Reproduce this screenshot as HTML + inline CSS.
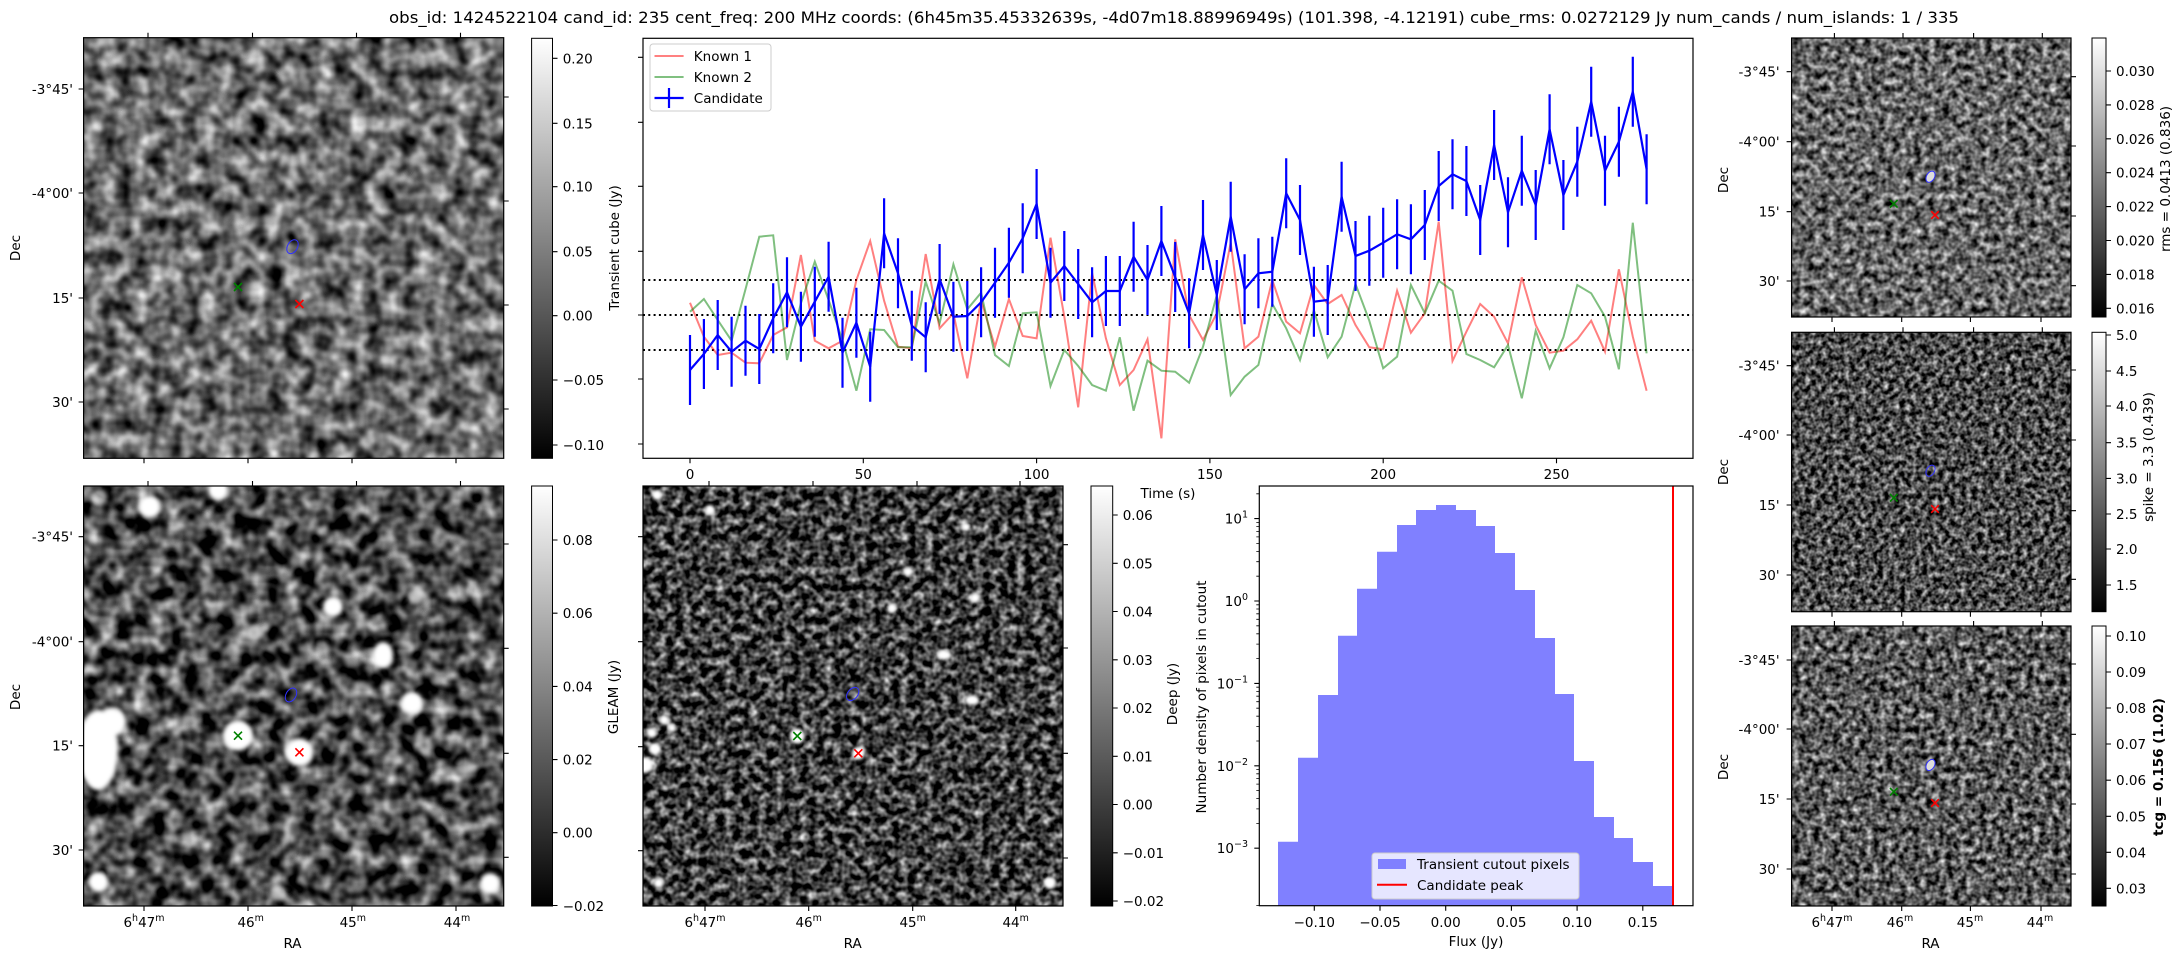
<!DOCTYPE html>
<html><head><meta charset="utf-8"><style>
html,body{margin:0;padding:0;background:#fff;}
svg{display:block;font-family:"DejaVu Sans","Liberation Sans",sans-serif;}
</style></head><body>
<svg width="2184" height="960" viewBox="0 0 2184 960" xmlns="http://www.w3.org/2000/svg">
<defs>
<linearGradient id="cb" x1="0" y1="1" x2="0" y2="0"><stop offset="0" stop-color="#000"/><stop offset="1" stop-color="#fff"/></linearGradient>
<filter id="fTL" x="83.6" y="37.7" width="420.1" height="420.6" filterUnits="userSpaceOnUse" color-interpolation-filters="sRGB">
<feTurbulence type="fractalNoise" baseFrequency="0.06" numOctaves="2" seed="3"/>
<feColorMatrix type="matrix" values="1.35 0 0 0 -0.255 1.35 0 0 0 -0.255 1.35 0 0 0 -0.255 0 0 0 0 1"/></filter>
<filter id="fBL" x="83.6" y="486" width="420.1" height="420" filterUnits="userSpaceOnUse" color-interpolation-filters="sRGB">
<feTurbulence type="fractalNoise" baseFrequency="0.06" numOctaves="2" seed="7"/>
<feColorMatrix type="matrix" values="1.6 0 0 0 -0.5 1.6 0 0 0 -0.5 1.6 0 0 0 -0.5 0 0 0 0 1"/></filter>
<filter id="fDP" x="643" y="486" width="420" height="420" filterUnits="userSpaceOnUse" color-interpolation-filters="sRGB">
<feTurbulence type="fractalNoise" baseFrequency="0.12" numOctaves="2" seed="11"/>
<feColorMatrix type="matrix" values="1.6 0 0 0 -0.55 1.6 0 0 0 -0.55 1.6 0 0 0 -0.55 0 0 0 0 1"/></filter>
<filter id="fR1" x="1791.6" y="38" width="279.4" height="279" filterUnits="userSpaceOnUse" color-interpolation-filters="sRGB">
<feTurbulence type="fractalNoise" baseFrequency="0.14" numOctaves="2" seed="5"/>
<feColorMatrix type="matrix" values="1.4 0 0 0 -0.3 1.4 0 0 0 -0.3 1.4 0 0 0 -0.3 0 0 0 0 1"/></filter>
<filter id="fR2" x="1791.6" y="332.3" width="279.4" height="279.4" filterUnits="userSpaceOnUse" color-interpolation-filters="sRGB">
<feTurbulence type="fractalNoise" baseFrequency="0.18" numOctaves="2" seed="9"/>
<feColorMatrix type="matrix" values="1.5 0 0 0 -0.45 1.5 0 0 0 -0.45 1.5 0 0 0 -0.45 0 0 0 0 1"/></filter>
<filter id="fR3" x="1791.6" y="626" width="279.4" height="280" filterUnits="userSpaceOnUse" color-interpolation-filters="sRGB">
<feTurbulence type="fractalNoise" baseFrequency="0.15" numOctaves="2" seed="13"/>
<feColorMatrix type="matrix" values="1.5 0 0 0 -0.4 1.5 0 0 0 -0.4 1.5 0 0 0 -0.4 0 0 0 0 1"/></filter>
<filter id="blur3"><feGaussianBlur stdDeviation="2.2"/></filter>
<filter id="blur2"><feGaussianBlur stdDeviation="1.6"/></filter>
<clipPath id="cBL"><rect x="83.6" y="486" width="420.1" height="420"/></clipPath>
<clipPath id="cDP"><rect x="643" y="486" width="420" height="420"/></clipPath>
</defs>

<text x="389" y="23" font-size="16" textLength="1570" lengthAdjust="spacingAndGlyphs">obs_id: 1424522104 cand_id: 235 cent_freq: 200 MHz coords: (6h45m35.45332639s, -4d07m18.88996949s) (101.398, -4.12191) cube_rms: 0.0272129 Jy num_cands / num_islands: 1 / 335</text>

<g font-size="13.5">
<!-- TOP LEFT -->
<rect x="83.6" y="37.7" width="420.1" height="420.6" filter="url(#fTL)"/>
<rect x="83.6" y="37.7" width="420.1" height="420.6" fill="none" stroke="#000" stroke-width="1.2"/>
<ellipse cx="292.5" cy="246.7" rx="5" ry="7.5" transform="rotate(30 292.5 246.7)" fill="none" stroke="#3030ff" stroke-width="1"/>
<path d="M234,283 l8,8 M242,283 l-8,8" stroke="green" stroke-width="1.6"/>
<path d="M295.4,300 l8,8 M303.4,300 l-8,8" stroke="red" stroke-width="1.6"/>
<path d="M148,37.7v-5M252.5,37.7v-5M356.5,37.7v-5M460.5,37.7v-5 M144,458.3v5M248,458.3v5M352,458.3v5M456,458.3v5 M83.6,89h-5M83.6,193h-5M83.6,298h-5M83.6,402h-5 M503.7,97h5M503.7,201h5M503.7,305h5M503.7,409h5" stroke="#000" stroke-width="1.1"/>
<text x="73" y="94" text-anchor="end">-3°45'</text>
<text x="73" y="198" text-anchor="end">-4°00'</text>
<text x="73" y="303" text-anchor="end">15'</text>
<text x="73" y="407" text-anchor="end">30'</text>
<text transform="translate(16,248) rotate(-90)" text-anchor="middle" dominant-baseline="central">Dec</text>
<rect x="531.6" y="38.3" width="20.9" height="420" fill="url(#cb)" stroke="#000" stroke-width="1"/>
<path d="M552.5,58.3h5M552.5,123.3h5M552.5,186.7h5M552.5,251.7h5M552.5,315.7h5M552.5,380h5M552.5,445h5" stroke="#000" stroke-width="1.1"/>
<text x="562.7" y="63.3">0.20</text><text x="562.7" y="128.3">0.15</text><text x="562.7" y="191.7">0.10</text><text x="562.7" y="256.7">0.05</text><text x="562.7" y="320.7">0.00</text><text x="562.7" y="385">−0.05</text><text x="562.7" y="450">−0.10</text>

<!-- LIGHT CURVE -->
<rect x="643" y="38.3" width="1050" height="420" fill="#fff" stroke="#000" stroke-width="1.2"/>
<path d="M643,57.3h-5M643,122.3h-5M643,186.3h-5M643,251.3h-5M643,315h-5M643,379h-5M643,444h-5 M690,458.3v5M863.3,458.3v5M1036.6,458.3v5M1209.9,458.3v5M1383.2,458.3v5M1556.5,458.3v5" stroke="#000" stroke-width="1.1"/>
<text x="690" y="479" text-anchor="middle">0</text><text x="863.3" y="479" text-anchor="middle">50</text><text x="1036.6" y="479" text-anchor="middle">100</text><text x="1209.9" y="479" text-anchor="middle">150</text><text x="1383.2" y="479" text-anchor="middle">200</text><text x="1556.5" y="479" text-anchor="middle">250</text>
<text x="1168" y="498" text-anchor="middle">Time (s)</text>
<text transform="translate(615,248) rotate(-90)" text-anchor="middle" dominant-baseline="central">Transient cube (Jy)</text>
<path d="M643,280H1693M643,315H1693M643,350H1693" stroke="#000" stroke-width="2" stroke-dasharray="2,3.3"/>
<polyline fill="none" stroke="#ff0000" stroke-opacity="0.5" stroke-width="2" points="690,302.7 703.9,336.7 717.7,355 731.6,352.7 745.5,362.7 759.3,363.3 773.2,335 787,327.3 800.9,255 814.8,340.7 828.6,348.3 842.5,340.7 856.4,280 870.2,241 884.1,300.7 898,346.7 911.8,348.3 925.7,254 939.6,328.3 953.4,313.3 967.3,378.3 981.1,300 995,346.7 1008.9,299 1022.7,336 1036.6,338.3 1050.5,237.7 1064.3,316.7 1078.2,407.3 1092.1,272.7 1105.9,338.3 1119.8,385 1133.6,370 1147.5,339.3 1161.4,438.3 1175.2,239.3 1189.1,315 1203,340 1216.8,313.3 1230.7,242.7 1244.6,348.3 1258.4,336.7 1272.3,280 1286.2,321.7 1300,333.3 1313.9,285 1327.7,304 1341.6,295 1355.5,325 1369.3,347.3 1383.2,349.3 1397.1,290.7 1410.9,332.7 1424.8,313.3 1438.7,221.7 1452.5,361 1466.4,331.7 1480.2,304 1494.1,316.7 1508,343.3 1521.8,277.3 1535.7,325 1549.6,352.7 1563.4,350.7 1577.3,339.3 1591.2,320.7 1605,351.7 1618.9,269.3 1632.8,336.7 1646.6,390.7"/>
<polyline fill="none" stroke="#008000" stroke-opacity="0.5" stroke-width="2" points="690,311.7 703.9,299 717.7,320 731.6,340.7 745.5,289.3 759.3,236.7 773.2,235.3 787,360 800.9,303.3 814.8,261.7 828.6,300 842.5,340 856.4,390.7 870.2,329.3 884.1,330 898,347.3 911.8,347.3 925.7,281.7 939.6,323.3 953.4,264.3 967.3,309.3 981.1,292.7 995,355 1008.9,366 1022.7,313.3 1036.6,312.3 1050.5,386 1064.3,350 1078.2,366 1092.1,385 1105.9,390.7 1119.8,337.3 1133.6,410.7 1147.5,360.7 1161.4,370.7 1175.2,371.7 1189.1,382.7 1203,346.7 1216.8,295 1230.7,395 1244.6,376.7 1258.4,365 1272.3,304 1286.2,328.3 1300,360 1313.9,310 1327.7,357.3 1341.6,336.7 1355.5,284 1369.3,320.7 1383.2,368.3 1397.1,356.7 1410.9,285 1424.8,313.3 1438.7,280.7 1452.5,290.7 1466.4,354 1480.2,360 1494.1,367.3 1508,345 1521.8,398.3 1535.7,330.7 1549.6,368.3 1563.4,337.3 1577.3,285 1591.2,293.3 1605,316.7 1618.9,369.3 1632.8,222.7 1646.6,353.3"/>
<polyline fill="none" stroke="#0000ff" stroke-width="2.2" points="690,370 703.9,354 717.7,335 731.6,351.7 745.5,340.7 759.3,349 773.2,318.3 787,292.3 800.9,326.7 814.8,301.7 828.6,276.7 842.5,352.7 856.4,322.7 870.2,366.7 884.1,233.3 898,273.3 911.8,325.7 925.7,337.3 939.6,279 953.4,316.7 967.3,316 981.1,302.3 995,282.7 1008.9,262.7 1022.7,238.3 1036.6,204 1050.5,282.7 1064.3,266 1078.2,284 1092.1,302.3 1105.9,291 1119.8,291 1133.6,256.7 1147.5,280 1161.4,241 1175.2,277 1189.1,313.3 1203,235 1216.8,295 1230.7,216.7 1244.6,289.3 1258.4,273.3 1272.3,271.7 1286.2,193.3 1300,220 1313.9,301.7 1327.7,300 1341.6,196.7 1355.5,256 1369.3,250.7 1383.2,242.7 1397.1,234.3 1410.9,239.3 1424.8,225 1438.7,186 1452.5,174.3 1466.4,181 1480.2,220 1494.1,145 1508,212.3 1521.8,170.7 1535.7,205 1549.6,129.3 1563.4,195 1577.3,161.7 1591.2,101.7 1605,170.7 1618.9,141.7 1632.8,91.7 1646.6,169.3"/>
<path stroke="#0000ff" stroke-width="2.2" fill="none" d="M690,335v70M703.9,319v70M717.7,300v70M731.6,316.7v70M745.5,305.7v70M759.3,314v70M773.2,283.3v70M787,257.3v70M800.9,291.7v70M814.8,266.7v70M828.6,241.7v70M842.5,317.7v70M856.4,287.7v70M870.2,331.7v70M884.1,198.3v70M898,238.3v70M911.8,290.7v70M925.7,302.3v70M939.6,244v70M953.4,281.7v70M967.3,281v70M981.1,267.3v70M995,247.7v70M1008.9,227.7v70M1022.7,203.3v70M1036.6,169v70M1050.5,247.7v70M1064.3,231v70M1078.2,249v70M1092.1,267.3v70M1105.9,256v70M1119.8,256v70M1133.6,221.7v70M1147.5,245v70M1161.4,206v70M1175.2,242v70M1189.1,278.3v70M1203,200v70M1216.8,260v70M1230.7,181.7v70M1244.6,254.3v70M1258.4,238.3v70M1272.3,236.7v70M1286.2,158.3v70M1300,185v70M1313.9,266.7v70M1327.7,265v70M1341.6,161.7v70M1355.5,221v70M1369.3,215.7v70M1383.2,207.7v70M1397.1,199.3v70M1410.9,204.3v70M1424.8,190v70M1438.7,151v70M1452.5,139.3v70M1466.4,146v70M1480.2,185v70M1494.1,110v70M1508,177.3v70M1521.8,135.7v70M1535.7,170v70M1549.6,94.3v70M1563.4,160v70M1577.3,126.7v70M1591.2,66.7v70M1605,135.7v70M1618.9,106.7v70M1632.8,56.7v70M1646.6,134.3v70"/>
<rect x="650" y="44" width="121" height="67" rx="3" fill="#fff" fill-opacity="0.8" stroke="#ccc" stroke-width="1"/>
<path d="M654.5,56H683.6" stroke="#ff8080" stroke-width="2"/>
<path d="M654.5,77H683.6" stroke="#80c080" stroke-width="2"/>
<path d="M654.5,98H683.6M669,88v20" stroke="#0000ff" stroke-width="2.2"/>
<text x="693.8" y="61">Known 1</text><text x="693.8" y="82">Known 2</text><text x="693.8" y="103">Candidate</text>

<!-- GLEAM -->
<rect x="83.6" y="486" width="420.1" height="420" filter="url(#fBL)"/>
<g clip-path="url(#cBL)" fill="#fff" filter="url(#blur3)">
<circle cx="149.5" cy="506.7" r="11"/><circle cx="218" cy="490" r="10"/><circle cx="333" cy="606.7" r="10"/><circle cx="254" cy="633" r="8" opacity="0.7"/><ellipse cx="383" cy="655" rx="10" ry="13"/><circle cx="412" cy="703" r="11"/><circle cx="415.5" cy="596.7" r="8" opacity="0.6"/><circle cx="238" cy="735.7" r="15"/><circle cx="299.4" cy="752.3" r="14"/><ellipse cx="98" cy="750" rx="20" ry="40"/><circle cx="112" cy="722" r="14"/><circle cx="98.4" cy="881.7" r="10"/><circle cx="490" cy="883" r="10"/><circle cx="278.5" cy="893" r="8" opacity="0.6"/><circle cx="464" cy="766.7" r="8" opacity="0.5"/><circle cx="99" cy="497" r="8" opacity="0.6"/><circle cx="322" cy="648" r="7" opacity="0.5"/><circle cx="232" cy="650" r="7" opacity="0.5"/>
</g>
<rect x="83.6" y="486" width="420.1" height="420" fill="none" stroke="#000" stroke-width="1.2"/>
<ellipse cx="291" cy="695" rx="5" ry="7.5" transform="rotate(30 291 695)" fill="none" stroke="#3030ff" stroke-width="1"/>
<path d="M234,731.7 l8,8 M242,731.7 l-8,8" stroke="green" stroke-width="1.6"/>
<path d="M295.4,748.3 l8,8 M303.4,748.3 l-8,8" stroke="red" stroke-width="1.6"/>
<path d="M148,486v-5M252.5,486v-5M356.5,486v-5M460.5,486v-5 M144,906v5M248,906v5M352,906v5M456,906v5 M83.6,536.7h-5M83.6,641.7h-5M83.6,745.7h-5M83.6,850h-5 M503.7,544h5M503.7,648.3h5M503.7,753.3h5M503.7,857.3h5" stroke="#000" stroke-width="1.1"/>
<text x="73" y="541.7" text-anchor="end">-3°45'</text>
<text x="73" y="646.7" text-anchor="end">-4°00'</text>
<text x="73" y="750.7" text-anchor="end">15'</text>
<text x="73" y="855" text-anchor="end">30'</text>
<text transform="translate(16,697) rotate(-90)" text-anchor="middle" dominant-baseline="central">Dec</text>
<text x="144" y="927" text-anchor="middle">6<tspan font-size="9.5" dy="-6">h</tspan><tspan dy="6">47</tspan><tspan font-size="9.5" dy="-6">m</tspan></text>
<text x="250.7" y="927" text-anchor="middle">46<tspan font-size="9.5" dy="-6">m</tspan></text>
<text x="352.8" y="927" text-anchor="middle">45<tspan font-size="9.5" dy="-6">m</tspan></text>
<text x="457" y="927" text-anchor="middle">44<tspan font-size="9.5" dy="-6">m</tspan></text>
<text x="292.5" y="948" text-anchor="middle">RA</text>
<rect x="531.6" y="486" width="20.9" height="420" fill="url(#cb)" stroke="#000" stroke-width="1"/>
<path d="M552.5,540h5M552.5,613.2h5M552.5,686.4h5M552.5,759.6h5M552.5,832.7h5M552.5,905.5h5" stroke="#000" stroke-width="1.1"/>
<text x="562.7" y="545">0.08</text><text x="562.7" y="618.2">0.06</text><text x="562.7" y="691.4">0.04</text><text x="562.7" y="764.6">0.02</text><text x="562.7" y="837.7">0.00</text><text x="562.7" y="911">−0.02</text>
<text transform="translate(614,697) rotate(-90)" text-anchor="middle" dominant-baseline="central">GLEAM (Jy)</text>

<!-- DEEP -->
<rect x="643" y="486" width="420" height="420" filter="url(#fDP)"/>
<g clip-path="url(#cDP)" fill="#fff" filter="url(#blur2)">
<circle cx="966" cy="527" r="4.5"/><circle cx="908" cy="572" r="4.5"/><circle cx="892" cy="608" r="5"/><circle cx="975" cy="598" r="5"/><ellipse cx="944" cy="655" rx="7" ry="5"/><ellipse cx="972" cy="700" rx="7" ry="5"/><circle cx="1042" cy="670" r="4" opacity="0.7"/><circle cx="1050" cy="883" r="6"/><circle cx="1027.7" cy="766.7" r="4" opacity="0.6"/><circle cx="837.7" cy="891" r="4" opacity="0.6"/><circle cx="797.3" cy="736" r="7.5"/><circle cx="858.3" cy="753.3" r="6.5"/><circle cx="655" cy="749" r="6"/><circle cx="651.7" cy="733" r="5"/><circle cx="664.3" cy="720" r="5"/><circle cx="672" cy="728" r="4"/><circle cx="645" cy="765" r="8"/><circle cx="658.7" cy="883" r="5"/><circle cx="657" cy="495" r="5"/><circle cx="710" cy="510" r="5"/><circle cx="1028" cy="897" r="4" opacity="0.6"/><circle cx="1042" cy="632" r="4" opacity="0.5"/>
</g>
<rect x="643" y="486" width="420" height="420" fill="none" stroke="#000" stroke-width="1.2"/>
<ellipse cx="852.7" cy="694" rx="5" ry="7.5" transform="rotate(40 852.7 694)" fill="none" stroke="#3030ff" stroke-width="1"/>
<path d="M793.3,732 l8,8 M801.3,732 l-8,8" stroke="green" stroke-width="1.6"/>
<path d="M854.3,749.3 l8,8 M862.3,749.3 l-8,8" stroke="red" stroke-width="1.6"/>
<path d="M709,486v-5M813,486v-5M917,486v-5M1020,486v-5 M705,906v5M808.7,906v5M912.7,906v5M1015.7,906v5 M643,536.7h-5M643,641.7h-5M643,746.7h-5M643,850.7h-5 M1063,544.7h5M1063,648h5M1063,753.3h5M1063,858h5" stroke="#000" stroke-width="1.1"/>
<text x="705" y="927" text-anchor="middle">6<tspan font-size="9.5" dy="-6">h</tspan><tspan dy="6">47</tspan><tspan font-size="9.5" dy="-6">m</tspan></text>
<text x="808.7" y="927" text-anchor="middle">46<tspan font-size="9.5" dy="-6">m</tspan></text>
<text x="912.7" y="927" text-anchor="middle">45<tspan font-size="9.5" dy="-6">m</tspan></text>
<text x="1015.7" y="927" text-anchor="middle">44<tspan font-size="9.5" dy="-6">m</tspan></text>
<text x="852.7" y="948" text-anchor="middle">RA</text>
<rect x="1091" y="486" width="21.7" height="420" fill="url(#cb)" stroke="#000" stroke-width="1"/>
<path d="M1112.7,515h5M1112.7,563.3h5M1112.7,611.5h5M1112.7,659.8h5M1112.7,708h5M1112.7,756.3h5M1112.7,804.5h5M1112.7,852.8h5M1112.7,901h5" stroke="#000" stroke-width="1.1"/>
<text x="1122.7" y="520">0.06</text><text x="1122.7" y="568.3">0.05</text><text x="1122.7" y="616.5">0.04</text><text x="1122.7" y="664.8">0.03</text><text x="1122.7" y="713">0.02</text><text x="1122.7" y="761.3">0.01</text><text x="1122.7" y="809.5">0.00</text><text x="1122.7" y="857.8">−0.01</text><text x="1122.7" y="906">−0.02</text>
<text transform="translate(1173,694) rotate(-90)" text-anchor="middle" dominant-baseline="central">Deep (Jy)</text>

<!-- HISTOGRAM -->
<rect x="1259.3" y="486" width="433.7" height="419.7" fill="#fff"/>
<path fill="#8080ff" d="M1278,906V841.7H1298V757.7H1318V695H1338V635.7H1357V588.7H1377V551.7H1397V525H1416V510H1436V505H1456V510H1476V526H1495V553H1515V590H1535V638H1555V694H1574V761H1594V817H1614V838H1633V862H1653V886H1673V906Z"/>
<path d="M1673,486V906" stroke="#ff0000" stroke-width="2"/>
<rect x="1259.3" y="486" width="433.7" height="419.7" fill="none" stroke="#000" stroke-width="1.2"/>
<path d="M1314.3,905.7v5M1380,905.7v5M1445.7,905.7v5M1511.4,905.7v5M1577.1,905.7v5M1642.8,905.7v5 M1259.3,518.6h-5M1259.3,601h-5M1259.3,683.4h-5M1259.3,765.8h-5M1259.3,848.2h-5" stroke="#000" stroke-width="1.1"/>
<path d="M1259.3,493.8h-3M1259.3,576.2h-3M1259.3,561.7h-3M1259.3,551.4h-3M1259.3,543.4h-3M1259.3,536.9h-3M1259.3,531.4h-3M1259.3,526.6h-3M1259.3,522.4h-3M1259.3,658.6h-3M1259.3,644.1h-3M1259.3,633.8h-3M1259.3,625.8h-3M1259.3,619.3h-3M1259.3,613.8h-3M1259.3,609h-3M1259.3,604.8h-3M1259.3,741h-3M1259.3,726.5h-3M1259.3,716.2h-3M1259.3,708.2h-3M1259.3,701.7h-3M1259.3,696.2h-3M1259.3,691.4h-3M1259.3,687.2h-3M1259.3,823.4h-3M1259.3,808.9h-3M1259.3,798.6h-3M1259.3,790.6h-3M1259.3,784.1h-3M1259.3,778.6h-3M1259.3,773.8h-3M1259.3,769.6h-3M1259.3,905.5h-3" stroke="#000" stroke-width="0.8"/>
<text x="1314.3" y="927" text-anchor="middle">−0.10</text><text x="1380" y="927" text-anchor="middle">−0.05</text><text x="1445.7" y="927" text-anchor="middle">0.00</text><text x="1511.4" y="927" text-anchor="middle">0.05</text><text x="1577.1" y="927" text-anchor="middle">0.10</text><text x="1642.8" y="927" text-anchor="middle">0.15</text>
<text x="1476" y="946" text-anchor="middle">Flux (Jy)</text>
<text x="1248" y="523.6" text-anchor="end">10<tspan font-size="9.5" dy="-6">1</tspan></text>
<text x="1248" y="606" text-anchor="end">10<tspan font-size="9.5" dy="-6">0</tspan></text>
<text x="1248" y="688.4" text-anchor="end">10<tspan font-size="9.5" dy="-6">−1</tspan></text>
<text x="1248" y="770.8" text-anchor="end">10<tspan font-size="9.5" dy="-6">−2</tspan></text>
<text x="1248" y="853.2" text-anchor="end">10<tspan font-size="9.5" dy="-6">−3</tspan></text>
<text transform="translate(1202,697) rotate(-90)" text-anchor="middle" dominant-baseline="central">Number density of pixels in cutout</text>
<rect x="1372" y="853" width="207" height="46" rx="3" fill="#fff" fill-opacity="0.8" stroke="#ccc" stroke-width="1"/>
<rect x="1378" y="859" width="28" height="10" fill="#8080ff"/>
<path d="M1377,884.7H1407" stroke="#ff0000" stroke-width="2"/>
<text x="1417" y="869">Transient cutout pixels</text>
<text x="1417" y="890">Candidate peak</text>

<!-- RMS -->
<rect x="1791.6" y="38" width="279.4" height="279" filter="url(#fR1)"/>
<rect x="1791.6" y="38" width="279.4" height="279" fill="none" stroke="#000" stroke-width="1.2"/>
<ellipse cx="1930.5" cy="176.7" rx="4" ry="6" transform="rotate(30 1930.5 176.7)" fill="#ddd" stroke="#3030ff" stroke-width="1"/>
<path d="M1890,200 l7.6,7.6 M1897.6,200 l-7.6,7.6" stroke="green" stroke-width="1.6"/>
<path d="M1931.2,211.2 l7.6,7.6 M1938.8,211.2 l-7.6,7.6" stroke="red" stroke-width="1.6"/>
<path d="M1834.4,38v-5M1903,38v-5M1973.6,38v-5M2042.3,38v-5 M1832,317v5M1901.7,317v5M1970.4,317v5M2041,317v5 M1791.6,71.7h-5M1791.6,141.7h-5M1791.6,211.7h-5M1791.6,281h-5 M2071,76.7h5M2071,146h5M2071,216h5M2071,285.7h5" stroke="#000" stroke-width="1.1"/>
<text x="1779.6" y="76.7" text-anchor="end">-3°45'</text>
<text x="1779.6" y="146.7" text-anchor="end">-4°00'</text>
<text x="1779.6" y="216.7" text-anchor="end">15'</text>
<text x="1779.6" y="286" text-anchor="end">30'</text>
<text transform="translate(1724,180) rotate(-90)" text-anchor="middle" dominant-baseline="central">Dec</text>
<rect x="2092" y="38" width="14" height="279" fill="url(#cb)" stroke="#000" stroke-width="1"/>
<path d="M2106,71h5M2106,104.9h5M2106,138.8h5M2106,172.7h5M2106,206.6h5M2106,240.5h5M2106,274.4h5M2106,308.3h5" stroke="#000" stroke-width="1.1"/>
<text x="2116" y="76">0.030</text><text x="2116" y="109.9">0.028</text><text x="2116" y="143.8">0.026</text><text x="2116" y="177.7">0.024</text><text x="2116" y="211.6">0.022</text><text x="2116" y="245.5">0.020</text><text x="2116" y="279.4">0.018</text><text x="2116" y="313.3">0.016</text>
<text transform="translate(2166,179) rotate(-90)" text-anchor="middle" dominant-baseline="central">rms = 0.0413 (0.836)</text>

<!-- SPIKE -->
<rect x="1791.6" y="332.3" width="279.4" height="279.4" filter="url(#fR2)"/>
<rect x="1791.6" y="332.3" width="279.4" height="279.4" fill="none" stroke="#000" stroke-width="1.2"/>
<ellipse cx="1930.5" cy="470.7" rx="4" ry="6" transform="rotate(30 1930.5 470.7)" fill="none" stroke="#3030ff" stroke-width="1"/>
<path d="M1890,494 l7.6,7.6 M1897.6,494 l-7.6,7.6" stroke="green" stroke-width="1.6"/>
<path d="M1931.2,505.2 l7.6,7.6 M1938.8,505.2 l-7.6,7.6" stroke="red" stroke-width="1.6"/>
<path d="M1834.4,332.3v-5M1903,332.3v-5M1973.6,332.3v-5M2042.3,332.3v-5 M1832,611.7v5M1901.7,611.7v5M1970.4,611.7v5M2041,611.7v5 M1791.6,365.7h-5M1791.6,435h-5M1791.6,505h-5M1791.6,575h-5 M2071,370h5M2071,440h5M2071,510.7h5M2071,579.3h5" stroke="#000" stroke-width="1.1"/>
<text x="1779.6" y="370.7" text-anchor="end">-3°45'</text>
<text x="1779.6" y="440" text-anchor="end">-4°00'</text>
<text x="1779.6" y="510" text-anchor="end">15'</text>
<text x="1779.6" y="580" text-anchor="end">30'</text>
<text transform="translate(1724,472) rotate(-90)" text-anchor="middle" dominant-baseline="central">Dec</text>
<rect x="2092" y="332.3" width="14" height="279.4" fill="url(#cb)" stroke="#000" stroke-width="1"/>
<path d="M2106,335h5M2106,371h5M2106,406h5M2106,442.7h5M2106,478.4h5M2106,514h5M2106,549h5M2106,585h5" stroke="#000" stroke-width="1.1"/>
<text x="2116" y="340">5.0</text><text x="2116" y="376">4.5</text><text x="2116" y="411">4.0</text><text x="2116" y="447.7">3.5</text><text x="2116" y="483.4">3.0</text><text x="2116" y="519">2.5</text><text x="2116" y="554">2.0</text><text x="2116" y="590">1.5</text>
<text transform="translate(2149,457) rotate(-90)" text-anchor="middle" dominant-baseline="central">spike = 3.3 (0.439)</text>

<!-- TCG -->
<rect x="1791.6" y="626" width="279.4" height="280" filter="url(#fR3)"/>
<rect x="1791.6" y="626" width="279.4" height="280" fill="none" stroke="#000" stroke-width="1.2"/>
<ellipse cx="1930.5" cy="765" rx="4" ry="6" transform="rotate(30 1930.5 765)" fill="#ddd" stroke="#3030ff" stroke-width="1"/>
<path d="M1890,788 l7.6,7.6 M1897.6,788 l-7.6,7.6" stroke="green" stroke-width="1.6"/>
<path d="M1931.2,799.2 l7.6,7.6 M1938.8,799.2 l-7.6,7.6" stroke="red" stroke-width="1.6"/>
<path d="M1834.4,626v-5M1903,626v-5M1973.6,626v-5M2042.3,626v-5 M1832,906v5M1901.7,906v5M1970.4,906v5M2041,906v5 M1791.6,660h-5M1791.6,729h-5M1791.6,799h-5M1791.6,869h-5 M2071,664h5M2071,734.3h5M2071,804h5M2071,874h5" stroke="#000" stroke-width="1.1"/>
<text x="1779.6" y="665" text-anchor="end">-3°45'</text>
<text x="1779.6" y="734" text-anchor="end">-4°00'</text>
<text x="1779.6" y="804" text-anchor="end">15'</text>
<text x="1779.6" y="874" text-anchor="end">30'</text>
<text transform="translate(1724,767) rotate(-90)" text-anchor="middle" dominant-baseline="central">Dec</text>
<text x="1832" y="927" text-anchor="middle">6<tspan font-size="9.5" dy="-6">h</tspan><tspan dy="6">47</tspan><tspan font-size="9.5" dy="-6">m</tspan></text>
<text x="1900" y="927" text-anchor="middle">46<tspan font-size="9.5" dy="-6">m</tspan></text>
<text x="1970" y="927" text-anchor="middle">45<tspan font-size="9.5" dy="-6">m</tspan></text>
<text x="2040" y="927" text-anchor="middle">44<tspan font-size="9.5" dy="-6">m</tspan></text>
<text x="1930.5" y="948" text-anchor="middle">RA</text>
<rect x="2092" y="626" width="14" height="280" fill="url(#cb)" stroke="#000" stroke-width="1"/>
<path d="M2106,636h5M2106,672h5M2106,708h5M2106,744h5M2106,780.2h5M2106,816.3h5M2106,852.3h5M2106,888.3h5" stroke="#000" stroke-width="1.1"/>
<text x="2116" y="641">0.10</text><text x="2116" y="677">0.09</text><text x="2116" y="713">0.08</text><text x="2116" y="749">0.07</text><text x="2116" y="785.2">0.06</text><text x="2116" y="821.3">0.05</text><text x="2116" y="857.3">0.04</text><text x="2116" y="893.3">0.03</text>
<text transform="translate(2159,767) rotate(-90)" text-anchor="middle" dominant-baseline="central" font-weight="bold">tcg = 0.156 (1.02)</text>
</g>
</svg>
</body></html>
